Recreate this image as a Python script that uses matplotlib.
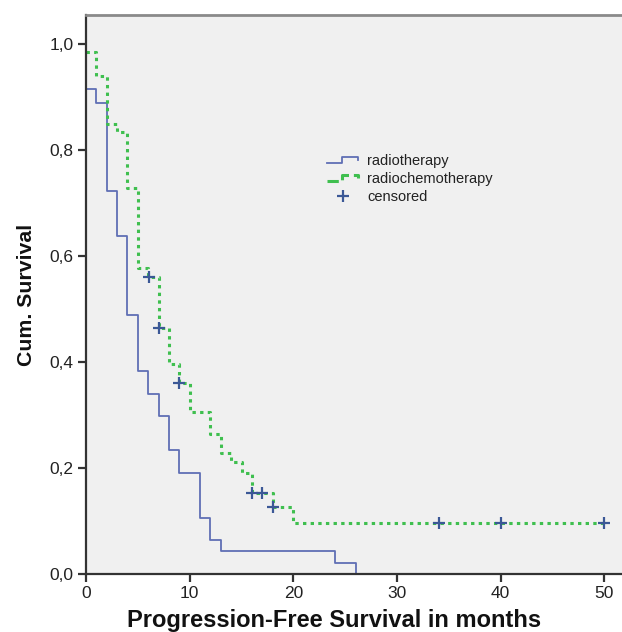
import numpy as np
import matplotlib
matplotlib.use("Agg")
import matplotlib.pyplot as plt
from matplotlib.lines import Line2D
from matplotlib.legend_handler import HandlerBase

# Kaplan-Meier steps
rt_time = [0, 1, 2, 3, 4, 5, 6, 7, 8, 9, 11, 12, 13, 24, 26]
rt_surv = [0.915, 0.89, 0.723, 0.638, 0.489, 0.383, 0.34, 0.298, 0.234,
           0.191, 0.106, 0.064, 0.043, 0.021, 0.0]

rct_time = [0, 1, 2, 3, 4, 5, 6, 7, 8, 9, 10, 12, 13, 14, 15, 16, 18, 20, 50]
rct_surv = [0.985, 0.94, 0.85, 0.835, 0.728, 0.577, 0.561, 0.464, 0.397,
            0.361, 0.306, 0.265, 0.228, 0.211, 0.191, 0.152, 0.126, 0.096, 0.096]
rct_censored = [6.1, 7, 9, 16, 17, 18, 34, 40, 50]

x_ticks = [0, 10, 20, 30, 40, 50]
y_ticks = [0.0, 0.2, 0.4, 0.6, 0.8, 1.0]
y_labels = ["0,0", "0,2", "0,4", "0,6", "0,8", "1,0"]

blue = "#5f6fb5"
green = "#3fbf4f"
cens = "#3b5896"
dots = (0, (1.1, 1.4))


class StepHandler(HandlerBase):
    # small step symbol as in the SPSS legend
    def create_artists(self, legend, orig, xd, yd, w, h, fontsize, trans):
        xs = [xd, xd + 0.48 * w, xd + 0.48 * w, xd + w, xd + w]
        ys = [yd + 0.15 * h, yd + 0.15 * h, yd + 0.8 * h, yd + 0.8 * h, yd + 0.5 * h]
        ln = Line2D(xs, ys, color=orig.get_color(), lw=orig.get_linewidth(),
                    linestyle=orig.get_linestyle(), transform=trans)
        return [ln]


fig = plt.figure(figsize=(6.22, 6.32), dpi=100)
ax = fig.add_axes([0.1383, 0.0918, 0.8617, 0.8842])
ax.set_facecolor("#f0f0f0")

l1, = ax.step(rt_time, rt_surv, where="post", color=blue, lw=1.3)
l2, = ax.step(rct_time, rct_surv, where="post", color=green, lw=2.2,
              linestyle=dots)

idx = np.searchsorted(rct_time, rct_censored, side="right") - 1
cy = np.array(rct_surv)[idx]
l3, = ax.plot(rct_censored, cy, "+", color=cens, ms=8, mew=1.6, linestyle="none")

ax.set_xlim(0, 51.7)
ax.set_ylim(0, 1.055)
ax.set_xticks(x_ticks)
ax.set_yticks(y_ticks)
ax.set_yticklabels(y_labels)
ax.tick_params(direction="out", length=6, width=1.6, color="#333333",
               labelsize=12.5, labelcolor="#222222", pad=3)
for lab in ax.get_xticklabels() + ax.get_yticklabels():
    lab.set_family("Liberation Sans")

ax.spines["right"].set_visible(False)
ax.spines["top"].set_color("#8a8a8a")
ax.spines["top"].set_linewidth(2)
for s in ["left", "bottom"]:
    ax.spines[s].set_color("#333333")
    ax.spines[s].set_linewidth(1.6)

ax.set_xlabel("Progression-Free Survival in months", fontsize=17,
              fontweight="bold", family="Liberation Sans", color="#111111")
ax.xaxis.set_label_coords(0.4636, -0.062)
ax.set_ylabel("Cum. Survival", fontsize=15.3, fontweight="bold",
              family="Liberation Sans", color="#111111", labelpad=10)

leg = ax.legend([l1, l2, l3], ["radiotherapy", "radiochemotherapy", "censored"],
                handler_map={l1: StepHandler(), l2: StepHandler()},
                loc="upper left", bbox_to_anchor=(0.4254, 0.7755), frameon=False,
                prop={"family": "Liberation Sans", "size": 10.5},
                handlelength=2.12, handletextpad=0.62, labelspacing=0.28)
for t in leg.get_texts():
    t.set_color("#222222")

fig.savefig("out.png", dpi=100)
